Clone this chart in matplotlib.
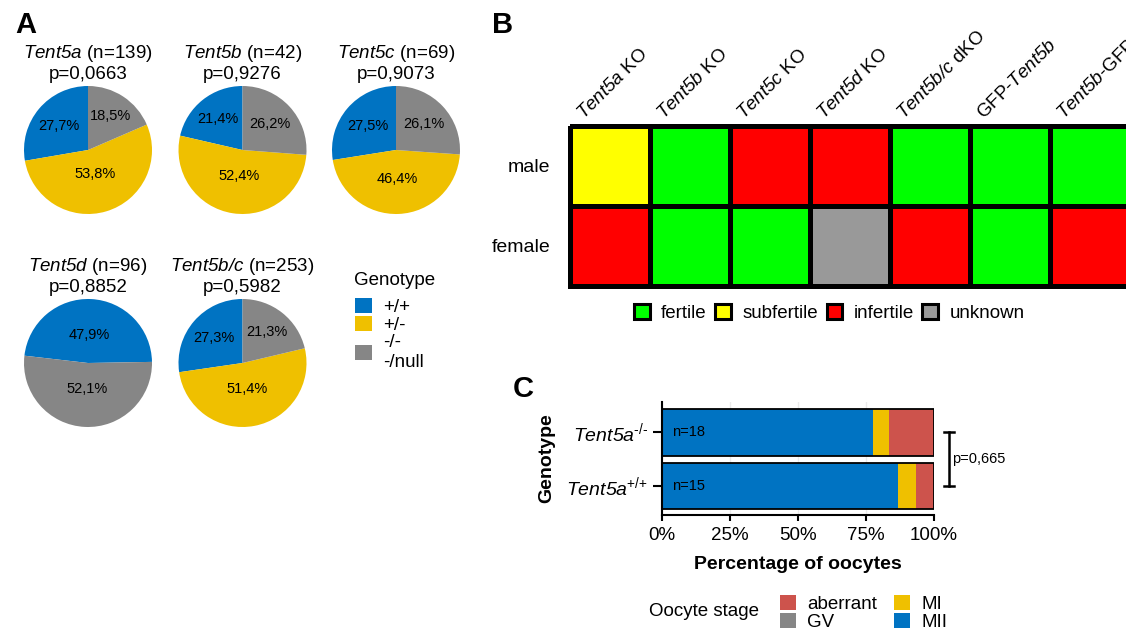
import numpy as np
import matplotlib
matplotlib.use("Agg")
import matplotlib.pyplot as plt
from matplotlib.colors import ListedColormap
from matplotlib.patches import Patch

plt.rcParams['font.family'] = ['Liberation Sans', 'DejaVu Sans']
plt.rcParams['mathtext.fontset'] = 'custom'
plt.rcParams['mathtext.rm'] = 'Liberation Sans'
plt.rcParams['mathtext.sf'] = 'Liberation Sans:italic'   # italic gene names, digits too
plt.rcParams['mathtext.bf'] = 'Liberation Sans:bold'

HY = "\u2010"  # plain hyphen, mathtext would turn "-" into a minus sign

# ---- panel A data: genotype distribution per gene
pie_genes = ["Tent5a", "Tent5b", "Tent5c", "Tent5d", "Tent5b/c"]
pie_n = [139, 42, 69, 96, 253]
pie_p = ["0,0663", "0,9276", "0,9073", "0,8852", "0,5982"]
pct_wt = [27.7, 21.4, 27.5, 47.9, 27.3]
pct_het = [53.8, 52.4, 46.4, 0.0, 51.4]
pct_ko = [18.5, 26.2, 26.1, 52.1, 21.3]
pie_start = [90, 90, 90, 1, 90]
geno_names = ["+/+", "+/-", "-/-\n-/null"]

# ---- panel B data: fertility
lines = [r"$\mathsf{Tent5a}$ KO", r"$\mathsf{Tent5b}$ KO", r"$\mathsf{Tent5c}$ KO",
         r"$\mathsf{Tent5d}$ KO", r"$\mathsf{Tent5b/c}$ dKO", r"GFP-$\mathsf{Tent5b}$",
         r"$\mathsf{Tent5b}$-GFP"]
sexes = ["male", "female"]
fert_states = ["fertile", "subfertile", "infertile", "unknown"]
male_fert = ["subfertile", "fertile", "infertile", "infertile", "fertile", "fertile", "fertile"]
female_fert = ["infertile", "fertile", "fertile", "unknown", "infertile", "fertile", "infertile"]

# ---- panel C data: oocyte stages
oo_geno = [r"$\mathsf{Tent5a}^{\mathrm{%s/%s}}$" % (HY, HY),
           r"$\mathsf{Tent5a}^{\mathrm{{+}/{+}}}$"]
oo_n = [18, 15]
oo_mii = [14, 13]
oo_mi = [1, 1]
oo_gv = [0, 0]
oo_aberrant = [3, 1]
oo_p = "p=0,665"

blue, yellow, grey, red = "#0073C2", "#EFC000", "#868686", "#CD534C"
fert_cols = ["#00FF00", "#FFFF00", "#FF0000", "#999999"]

W, H = 1126, 632
fig = plt.figure(figsize=(W / 100, H / 100), dpi=100)


def box(x0, y0, x1, y1):
    return [x0 / W, 1 - y1 / H, (x1 - x0) / W, (y1 - y0) / H]


def fmt(v):
    return f"{v:.1f}%".replace(".", ",")


# ---------------- A: pies
centers = [(88, 150), (242.5, 150), (396, 150), (88, 363), (242.5, 363)]
R = 64
for i, (cx, cy) in enumerate(centers):
    ax = fig.add_axes(box(cx - R, cy - R, cx + R, cy + R))
    vals = [pct_wt[i], pct_het[i], pct_ko[i]]
    cols = [blue, yellow, grey]
    keep = [k for k in range(3) if vals[k] > 0]
    wedges, _ = ax.pie([vals[k] for k in keep], colors=[cols[k] for k in keep],
                       startangle=pie_start[i], counterclock=True, radius=1,
                       wedgeprops=dict(linewidth=0))
    for w, k in zip(wedges, keep):
        # label at the centroid of the slice
        half = np.deg2rad(w.theta2 - w.theta1) / 2
        dist = 2 * np.sin(half) / (3 * half)
        mid = np.deg2rad((w.theta1 + w.theta2) / 2)
        ax.text(dist * np.cos(mid), dist * np.sin(mid), fmt(vals[k]),
                ha='center', va='center', fontsize=10.5)
    ax.set_xlim(-1, 1)
    ax.set_ylim(-1, 1)
    ax.text(0, 92 / R, r"$\mathsf{%s}$ (n=%d)" % (pie_genes[i], pie_n[i]),
            ha='center', va='baseline', fontsize=13.5)
    ax.text(0, 71 / R, "p=" + pie_p[i], ha='center', va='baseline', fontsize=13.5)

fig.text(354 / W, 1 - 285 / H, "Genotype", fontsize=13.5, va='baseline')
fig.legend([Patch(facecolor=c) for c in [blue, yellow, grey]], geno_names,
           loc='upper left', bbox_to_anchor=(355 / W, 1 - 298 / H),
           frameon=False, fontsize=13.5,
           handlelength=0.9, handleheight=0.85, handletextpad=0.6,
           labelspacing=0.0, borderpad=0, borderaxespad=0)

# ---------------- B: fertility grid
axb = fig.add_axes(box(570, 125.5, 1130, 285.5))
codes = np.array([[fert_states.index(s) for s in male_fert],
                  [fert_states.index(s) for s in female_fert]])
mesh = axb.pcolormesh(codes, cmap=ListedColormap(fert_cols), vmin=-0.5, vmax=3.5,
                      edgecolors='black', linewidth=3.6)
mesh.set_clip_on(False)
axb.set_xlim(0, len(lines))
axb.set_ylim(2, 0)
for s in axb.spines.values():
    s.set_visible(False)
axb.set_yticks(np.arange(len(sexes)) + 0.5, sexes, fontsize=14)
axb.tick_params(axis='y', length=0, pad=14)
axb.xaxis.tick_top()
axb.set_xticks(np.arange(len(lines)) + 0.2, lines, fontsize=13.5, rotation=45,
               ha='left', va='bottom', rotation_mode='anchor')
axb.tick_params(axis='x', length=0, pad=2)
axb.legend([Patch(facecolor=c, edgecolor='black', linewidth=2.2) for c in fert_cols],
           fert_states, loc='upper left', bbox_to_anchor=(634 / W, 1 - 304 / H),
           bbox_transform=fig.transFigure, ncol=4, frameon=False, fontsize=13.5,
           handlelength=0.85, handleheight=0.85, handletextpad=0.6,
           columnspacing=0.45, borderpad=0, borderaxespad=0)

# ---------------- C: oocyte stages
axc = fig.add_axes(box(661.5, 402, 934, 515))
ypos = np.array([1, 0])
tot = np.array(oo_n, dtype=float)
left = np.zeros(2)
for vals, c in [(oo_mii, blue), (oo_mi, yellow), (oo_gv, grey), (oo_aberrant, red)]:
    frac = np.array(vals) / tot
    axc.barh(ypos, frac, left=left, height=0.87, color=c, linewidth=0)
    left += frac
axc.barh(ypos, left, height=0.87, fill=False, edgecolor='black', linewidth=1.3)
for y, n in zip(ypos, oo_n):
    axc.text(0.04, y, f"n={n}", va='center', fontsize=10.5)
axc.set_xlim(0, 1)
axc.set_ylim(-0.537, 1.556)
axc.set_axisbelow(True)
axc.grid(axis='x', color='#EBEBEB', linewidth=1)
axc.set_xticks([0, 0.25, 0.5, 0.75, 1], ["0%", "25%", "50%", "75%", "100%"], fontsize=13.5)
axc.set_yticks(ypos, oo_geno, fontsize=14)
axc.tick_params(axis='x', length=4.5, width=1.5, pad=4)
axc.tick_params(axis='y', length=6.5, width=1.5, pad=3)
for side in ['top', 'right']:
    axc.spines[side].set_visible(False)
for side in ['left', 'bottom']:
    axc.spines[side].set_linewidth(1.5)
axc.set_xlabel("Percentage of oocytes", fontsize=14, fontweight='bold', labelpad=9)
axc.set_ylabel("Genotype", fontsize=14, fontweight='bold', labelpad=8)
bx = 1.055
axc.plot([bx, bx], [ypos[0], ypos[1]], color='black', lw=1.8, clip_on=False)
for y in ypos:
    axc.plot([bx - 0.017, bx + 0.017], [y, y], color='black', lw=1.8, clip_on=False)
axc.text(bx + 0.01, ypos.mean(), oo_p, va='center', ha='left', fontsize=10.5)

fig.text(649 / W, 1 - 612 / H, "Oocyte stage", fontsize=13.5, va='center', ha='left')
fig.legend([Patch(facecolor=c) for c in [red, grey, yellow, blue]],
           ["aberrant", "GV", "MI", "MII"], loc='upper left',
           bbox_to_anchor=(780 / W, 1 - 595 / H), ncol=2, frameon=False, fontsize=13.5,
           handlelength=0.85, handleheight=0.85, handletextpad=0.6,
           labelspacing=0.0, columnspacing=0.9, borderpad=0, borderaxespad=0)

# panel letters
for lab, x, y in [("A", 15, 33), ("B", 492, 33), ("C", 513, 397)]:
    fig.text(x / W, 1 - y / H, lab, fontsize=21, fontweight='bold', va='baseline')

fig.savefig("out.png", dpi=100)
